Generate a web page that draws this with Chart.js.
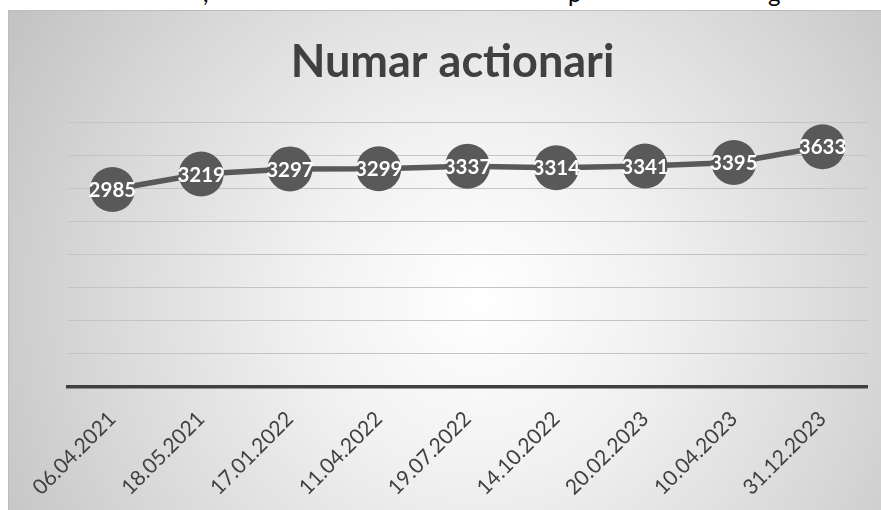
<!DOCTYPE html>
<html>
<head>
<meta charset="utf-8">
<script src="https://cdn.jsdelivr.net/npm/chart.js@4.4.1/dist/chart.umd.min.js"></script>
<style>
  html, body { margin:0; padding:0; background:#fff; width:881px; height:510px; overflow:hidden; }
  #frag { position:absolute; left:0; top:0; width:881px; height:10px; overflow:hidden; font:24px Lato, sans-serif; color:#000; }
  #frag span { position:absolute; top:-22px; }
  #box { position:absolute; left:8px; top:10px; width:873px; height:500px;
    border-left:1px solid #bdbdbd; border-top:1px solid #bdbdbd; box-sizing:border-box;
    background: radial-gradient(circle farthest-corner at 54% 58%, #ffffff 0%, #f2f2f2 30%, #d9d9d9 68%, #c2c2c2 100%); }
  canvas { position:absolute; left:8px; top:10px; }
</style>
</head>
<body>
<div id="frag"><span style="left:203px">,</span><span style="left:568px">p</span><span style="left:768px">g</span></div>
<div id="box"></div>
<canvas id="c" width="873" height="500"></canvas>
<script>
// Numar actionari — one line, labels inside markers
const title = 'Numar actionari';
const dates = ['06.04.2021','18.05.2021','17.01.2022','11.04.2022','19.07.2022','14.10.2022','20.02.2023','10.04.2023','31.12.2023'];
const holders = [2985, 3219, 3297, 3299, 3337, 3314, 3341, 3395, 3633];
const yMin = 0, yMax = 4000, yStep = 500;

// title drawn by hand so it can sit off the plot centre like the original
const titlePlugin = {
  id:'titlePlugin',
  afterDraw(chart){
    const {ctx} = chart;
    ctx.save();
    ctx.font = 'bold 45px Lato, sans-serif';
    ctx.fillStyle = '#404040';
    ctx.textAlign = 'center';
    ctx.textBaseline = 'alphabetic';
    ctx.fillText(title, 444.5, 66.5);
    ctx.restore();
  }
};

const inLabels = {
  id:'inLabels',
  afterDatasetsDraw(chart){
    const {ctx} = chart;
    const meta = chart.getDatasetMeta(0);
    ctx.save();
    ctx.font = 'bold 20.5px Lato, sans-serif';
    ctx.fillStyle = '#ffffff';
    ctx.textAlign = 'center';
    ctx.textBaseline = 'middle';
    meta.data.forEach((pt, i) => ctx.fillText(String(holders[i]), pt.x, pt.y + 1));
    ctx.restore();
  }
};

new Chart(document.getElementById('c'), {
  type:'line',
  data:{ labels:dates, datasets:[{
    data:holders, borderColor:'#595959', borderWidth:5.5, tension:0,
    pointRadius:22.5, pointHoverRadius:22.5, pointBackgroundColor:'#595959', pointBorderWidth:0
  }]},
  options:{
    responsive:false, animation:false, events:[],
    layout:{ autoPadding:false, padding:{ left:60, right:14, top:112.5, bottom:0 } },
    plugins:{ legend:{display:false}, tooltip:{enabled:false} },
    scales:{
      x:{ offset:true, grid:{display:false, drawTicks:false},
        border:{ display:true, color:'#404040', width:3.5 },
        ticks:{ color:'#404040', font:{family:'Lato', size:21}, maxRotation:45, minRotation:45, padding:20 },
        afterFit(s){ s.height = 123.5; s.paddingLeft = 0; s.paddingRight = 0; } },
      y:{ min:yMin, max:yMax, grid:{ color:'#c4c4c4', lineWidth:1, drawTicks:false },
        border:{display:false},
        ticks:{ display:false, stepSize:yStep },
        afterFit(s){ s.width = 0; } }
    }
  },
  plugins:[inLabels, titlePlugin]
});
</script>
</body>
</html>
